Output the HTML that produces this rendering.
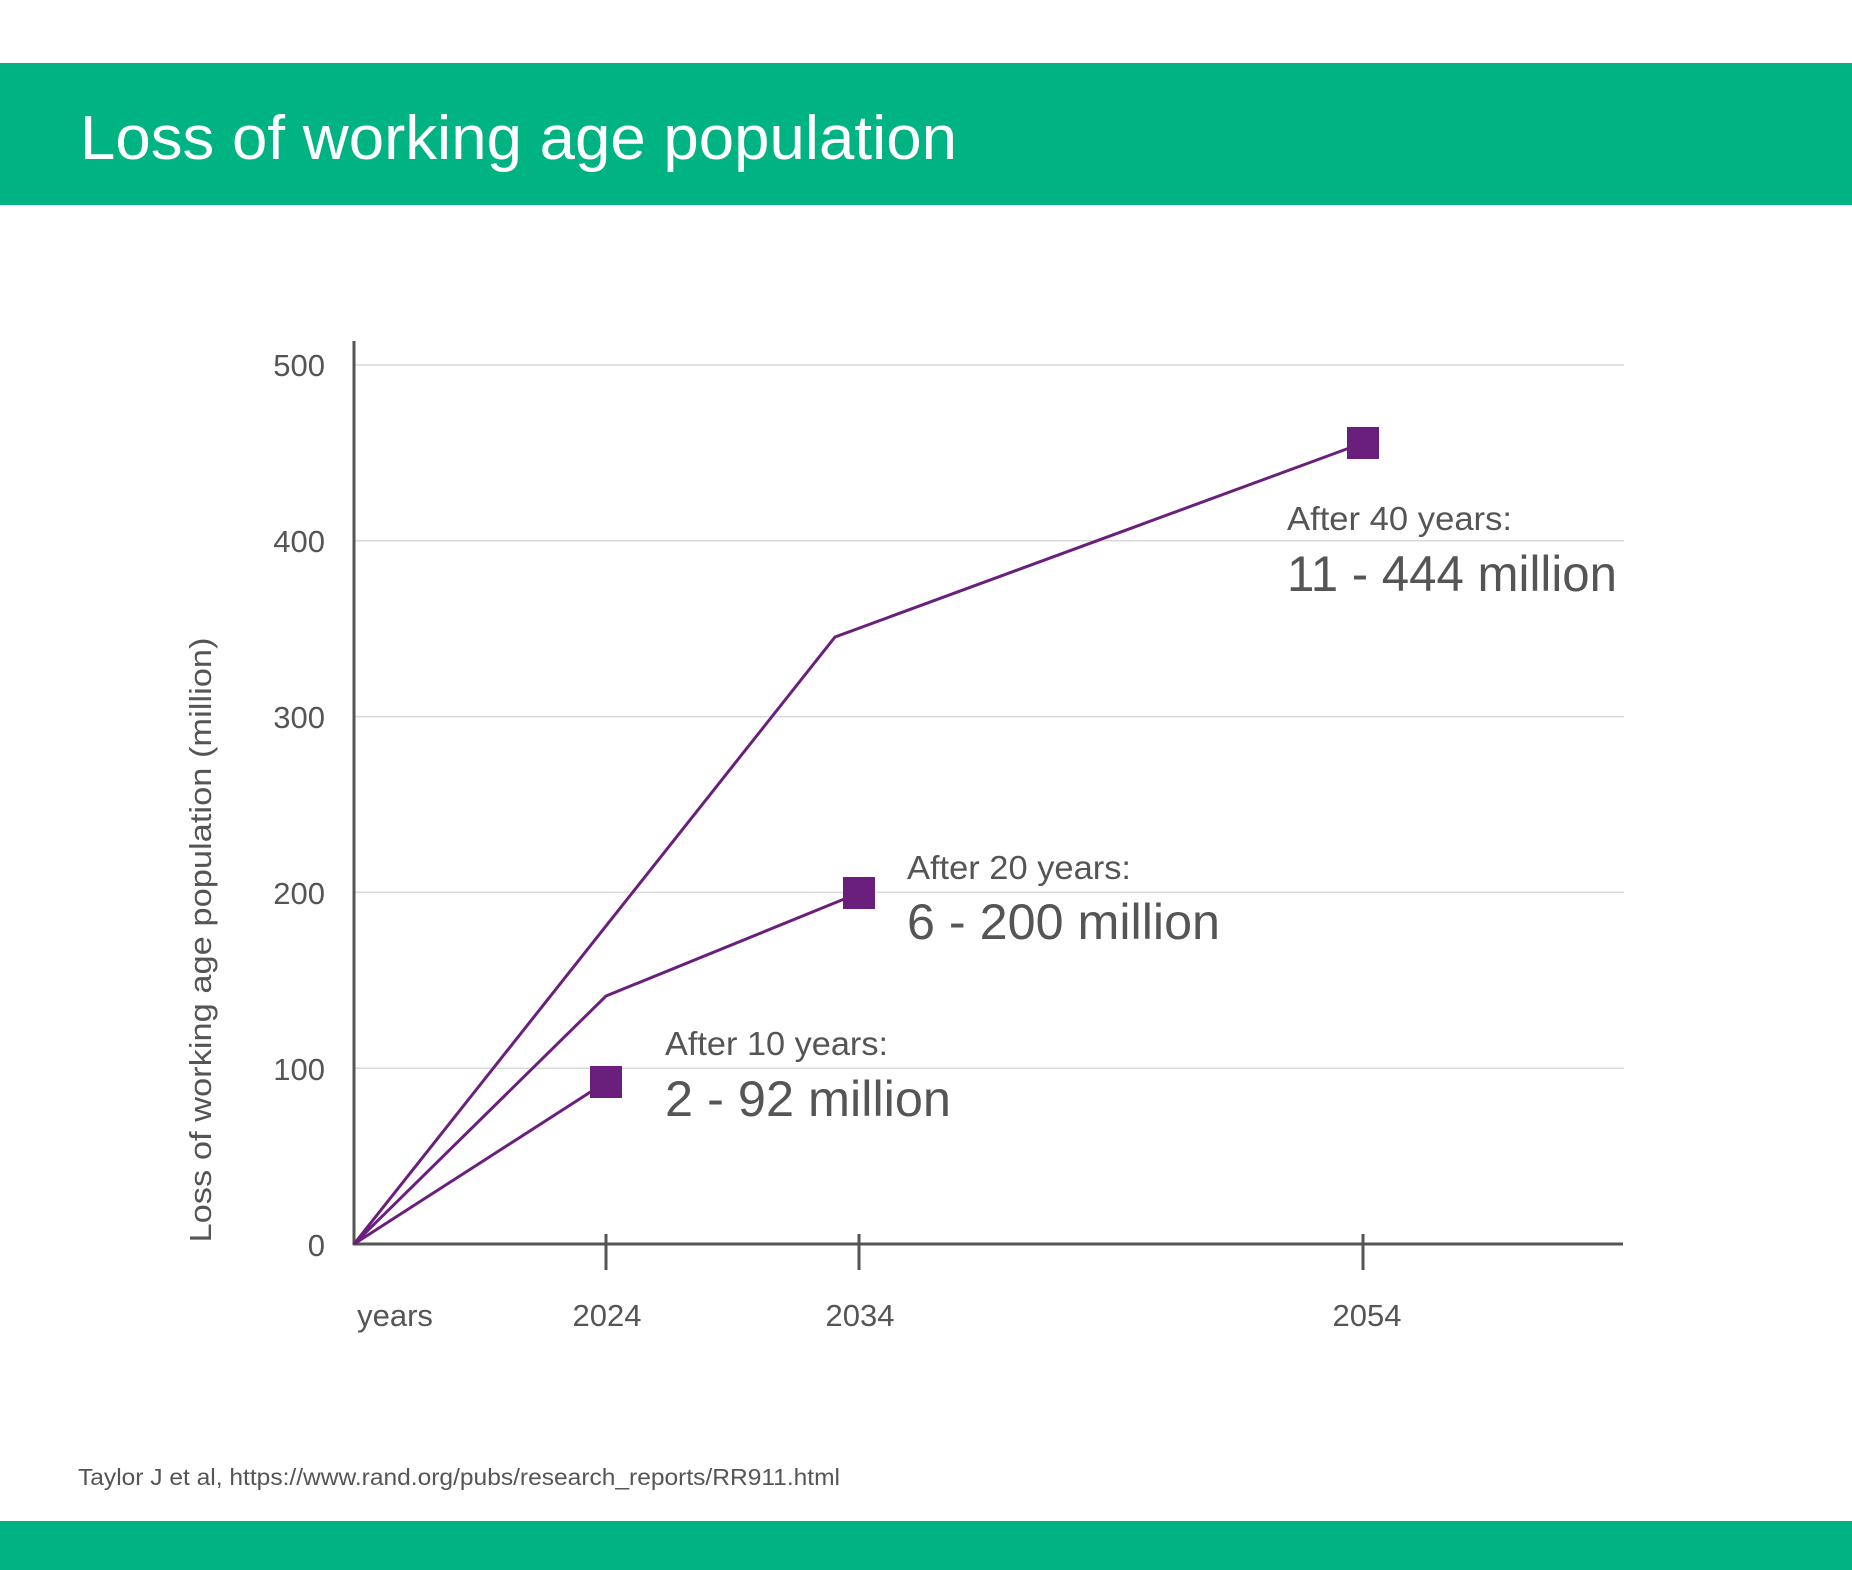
<!DOCTYPE html>
<html><head><meta charset="utf-8"><style>html,body{margin:0;padding:0;background:#fff}svg{display:block}</style></head>
<body>
<svg width="1852" height="1570" viewBox="0 0 1852 1570" xmlns="http://www.w3.org/2000/svg" font-family="'Liberation Sans Narrow','Liberation Sans',sans-serif">
<rect x="0" y="63" width="1852" height="142" fill="#00b383"/>
<rect x="0" y="1521" width="1852" height="49" fill="#00b383"/>
<text x="80" y="159" font-size="62" fill="#fff" textLength="877" lengthAdjust="spacingAndGlyphs">Loss of working age population</text>
<g stroke="#d9d9d9" stroke-width="1.5">
<line x1="354" y1="1068.2" x2="1624" y2="1068.2"/>
<line x1="354" y1="892.4" x2="1624" y2="892.4"/>
<line x1="354" y1="716.6" x2="1624" y2="716.6"/>
<line x1="354" y1="540.8" x2="1624" y2="540.8"/>
<line x1="354" y1="365" x2="1624" y2="365"/>
</g>
<g stroke="#555" stroke-width="3">
<line x1="354" y1="341" x2="354" y2="1245"/>
<line x1="353" y1="1244" x2="1623" y2="1244"/>
<line x1="606" y1="1234" x2="606" y2="1270"/>
<line x1="859" y1="1234" x2="859" y2="1270"/>
<line x1="1363" y1="1234" x2="1363" y2="1270"/>
</g>
<g font-size="31" fill="#555" text-anchor="end">
<text x="325" y="1256">0</text>
<text x="325" y="1080">100</text>
<text x="325" y="904">200</text>
<text x="325" y="728">300</text>
<text x="325" y="552">400</text>
<text x="325" y="376">500</text>
</g>
<text transform="translate(211,940) rotate(-90)" text-anchor="middle" font-size="31" fill="#555" textLength="605" lengthAdjust="spacingAndGlyphs">Loss of working age population (million)</text>
<g font-size="31" fill="#555" text-anchor="middle">
<text x="395" y="1326">years</text>
<text x="607" y="1326">2024</text>
<text x="860" y="1326">2034</text>
<text x="1367" y="1326">2054</text>
</g>
<g stroke="#6b1f7c" stroke-width="3" fill="none">
<polyline points="354,1244 606,1082"/>
<polyline points="354,1244 606,996 859,893"/>
<polyline points="354,1244 835,637 1363,443"/>
</g>
<g fill="#6b1f7c">
<rect x="590" y="1066" width="32" height="32"/>
<rect x="843" y="877" width="32" height="32"/>
<rect x="1347" y="427" width="32" height="32"/>
</g>
<g fill="#555">
<text x="665" y="1055" font-size="33" textLength="223" lengthAdjust="spacingAndGlyphs">After 10 years:</text>
<text x="665" y="1116" font-size="50" textLength="286" lengthAdjust="spacingAndGlyphs">2 - 92 million</text>
<text x="907" y="879" font-size="33" textLength="224" lengthAdjust="spacingAndGlyphs">After 20 years:</text>
<text x="907" y="939" font-size="50" textLength="313" lengthAdjust="spacingAndGlyphs">6 - 200 million</text>
<text x="1287" y="530" font-size="33" textLength="225" lengthAdjust="spacingAndGlyphs">After 40 years:</text>
<text x="1287" y="591" font-size="50" textLength="330" lengthAdjust="spacingAndGlyphs">11 - 444 million</text>
<text x="78" y="1485" font-size="23" textLength="762" lengthAdjust="spacingAndGlyphs">Taylor J et al, https://www.rand.org/pubs/research_reports/RR911.html</text>
</g>
</svg>
</body></html>
